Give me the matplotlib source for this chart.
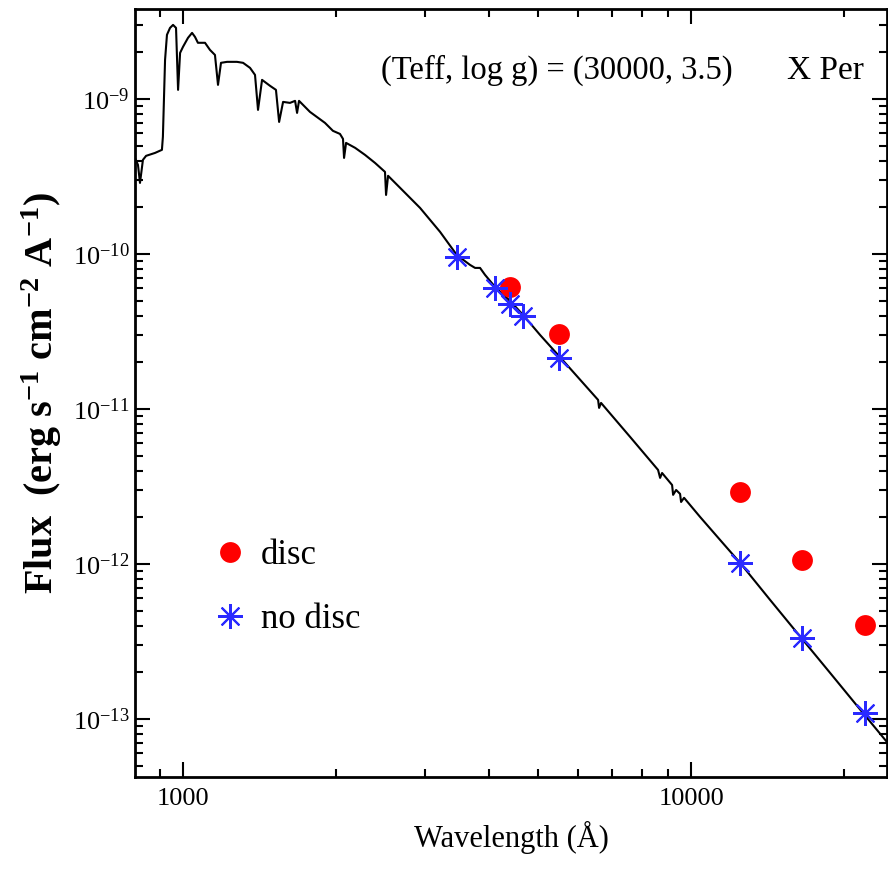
import math
import matplotlib
matplotlib.use("Agg")
import matplotlib.pyplot as plt
from matplotlib.ticker import LogLocator, FixedLocator, FuncFormatter, NullFormatter

plt.rcParams['font.family'] = ['Liberation Serif', 'DejaVu Serif']
plt.rcParams['mathtext.default'] = 'regular'

# model spectrum (Teff, log g) = (30000, 3.5)
wave = [804.5, 815.5, 823, 834, 846, 881, 909, 913, 922, 930, 943, 956, 969,
        978, 987, 1000, 1023, 1042, 1056, 1070, 1105, 1130, 1156, 1172, 1188,
        1221, 1277, 1313, 1355, 1386, 1405, 1431, 1484, 1524, 1546, 1574,
        1624, 1662, 1677, 1692, 1778, 1903, 1973, 2037, 2065, 2075, 2094,
        2182, 2282, 2388, 2498, 2510, 2533, 2674, 2928, 3206, 3462, 3673,
        3757, 3843, 3931, 4114, 4404, 4670, 5044, 5472, 6561, 6591, 6650,
        7585, 8610, 8690, 8768, 9175, 9218, 9344, 9513, 9557, 9687, 10416,
        11405, 12490, 14306, 16542, 18780, 21710, 24650]
flux = [4.16e-10, 3.75e-10, 2.87e-10, 4.04e-10, 4.29e-10, 4.48e-10, 4.69e-10,
        5.69e-10, 1.785e-9, 2.59e-9, 2.87e-9, 3.00e-9, 2.87e-9, 1.143e-9,
        1.98e-9, 2.165e-9, 2.475e-9, 2.665e-9, 2.51e-9, 2.30e-9, 2.30e-9,
        2.07e-9, 1.92e-9, 1.231e-9, 1.708e-9, 1.733e-9, 1.733e-9, 1.708e-9,
        1.585e-9, 1.428e-9, 8.49e-10, 1.326e-9, 1.213e-9, 1.143e-9, 7.10e-10,
        9.56e-10, 9.42e-10, 9.71e-10, 8.12e-10, 9.71e-10, 8.24e-10, 7.00e-10,
        6.22e-10, 5.94e-10, 5.52e-10, 4.16e-10, 5.20e-10, 4.83e-10, 4.35e-10,
        3.86e-10, 3.38e-10, 2.40e-10, 3.19e-10, 2.67e-10, 1.98e-10, 1.387e-10,
        9.8e-11, 8.49e-11, 8.12e-11, 8.12e-11, 7.32e-11, 6.12e-11, 4.97e-11,
        4.04e-11, 3.00e-11, 2.23e-11, 1.143e-11, 1.015e-11, 1.093e-11,
        6.60e-12, 4.04e-12, 3.59e-12, 3.86e-12, 3.23e-12, 2.79e-12, 3.00e-12,
        2.83e-12, 2.51e-12, 2.67e-12, 2.01e-12, 1.428e-12, 1.015e-12,
        5.86e-13, 3.28e-13, 1.98e-13, 1.109e-13, 6.70e-14]

# photometry
disc_wave = [4400, 5500, 12500, 16500, 22000]
disc_flux = [6.12e-11, 3.05e-11, 2.92e-12, 1.06e-12, 4.04e-13]
nodisc_wave = [3460, 4110, 4400, 4670, 5500, 12500, 16500, 22000]
nodisc_flux = [9.57e-11, 6.04e-11, 4.75e-11, 3.98e-11, 2.13e-11, 1.01e-12,
               3.33e-13, 1.09e-13]

xticks = [1000, 10000]
yticks = [1e-13, 1e-12, 1e-11, 1e-10, 1e-9]

fig = plt.figure(figsize=(8.88, 8.81), dpi=100)
ax = fig.add_axes([0.152, 0.118, 0.847, 0.872])

ax.plot(wave, flux, color='black', lw=1.5, zorder=2)
ax.plot(disc_wave, disc_flux, 'o', color='#ff0000', ms=15, mec='none',
        label='disc', zorder=3)
ax.plot(nodisc_wave, nodisc_flux, ls='none', marker=(8, 2, 0), color='#2a2aff',
        ms=18, mew=1.5, label='no disc', zorder=4)

ax.set_xscale('log')
ax.set_yscale('log')
ax.set_xlim(804.5, 24310)
ax.set_ylim(4.22e-14, 3.81e-9)

ax.xaxis.set_major_locator(FixedLocator(xticks))
ax.xaxis.set_minor_locator(LogLocator(base=10, subs=range(2, 10)))
ax.yaxis.set_major_locator(FixedLocator(yticks))
ax.yaxis.set_minor_locator(LogLocator(base=10, subs=range(2, 10)))
ax.xaxis.set_major_formatter(FuncFormatter(lambda v, p: '%d' % round(v)))
ax.yaxis.set_major_formatter(FuncFormatter(
    lambda v, p: r'$10^{%d}$' % round(math.log10(v))))
ax.xaxis.set_minor_formatter(NullFormatter())
ax.yaxis.set_minor_formatter(NullFormatter())

ax.tick_params(which='both', direction='in', top=True, right=True, width=1.5)
ax.tick_params(which='major', length=11)
ax.tick_params(which='minor', length=6)
ax.tick_params(axis='x', pad=8, labelsize=19)
ax.tick_params(axis='y', pad=4, labelsize=19)
for s in ax.spines.values():
    s.set_linewidth(2)

ax.set_xlabel('Wavelength (Å)', fontsize=22, labelpad=8)
ax.set_ylabel(r'Flux  (erg s$^{-1}$ cm$^{-2}$ A$^{-1}$)', fontsize=29,
              fontweight='bold', labelpad=6)

ax.text(0.561, 0.92, '(Teff, log g) = (30000, 3.5)', transform=ax.transAxes,
        ha='center', va='center', fontsize=23.5)
ax.text(0.918, 0.92, 'X Per', transform=ax.transAxes,
        ha='center', va='center', fontsize=24)

ax.legend(loc='center left', bbox_to_anchor=(0.057, 0.247), frameon=False,
          fontsize=25, handletextpad=0.3, labelspacing=0.9, markerscale=1.0,
          handlelength=1.2)

fig.savefig('out.png', dpi=100)
